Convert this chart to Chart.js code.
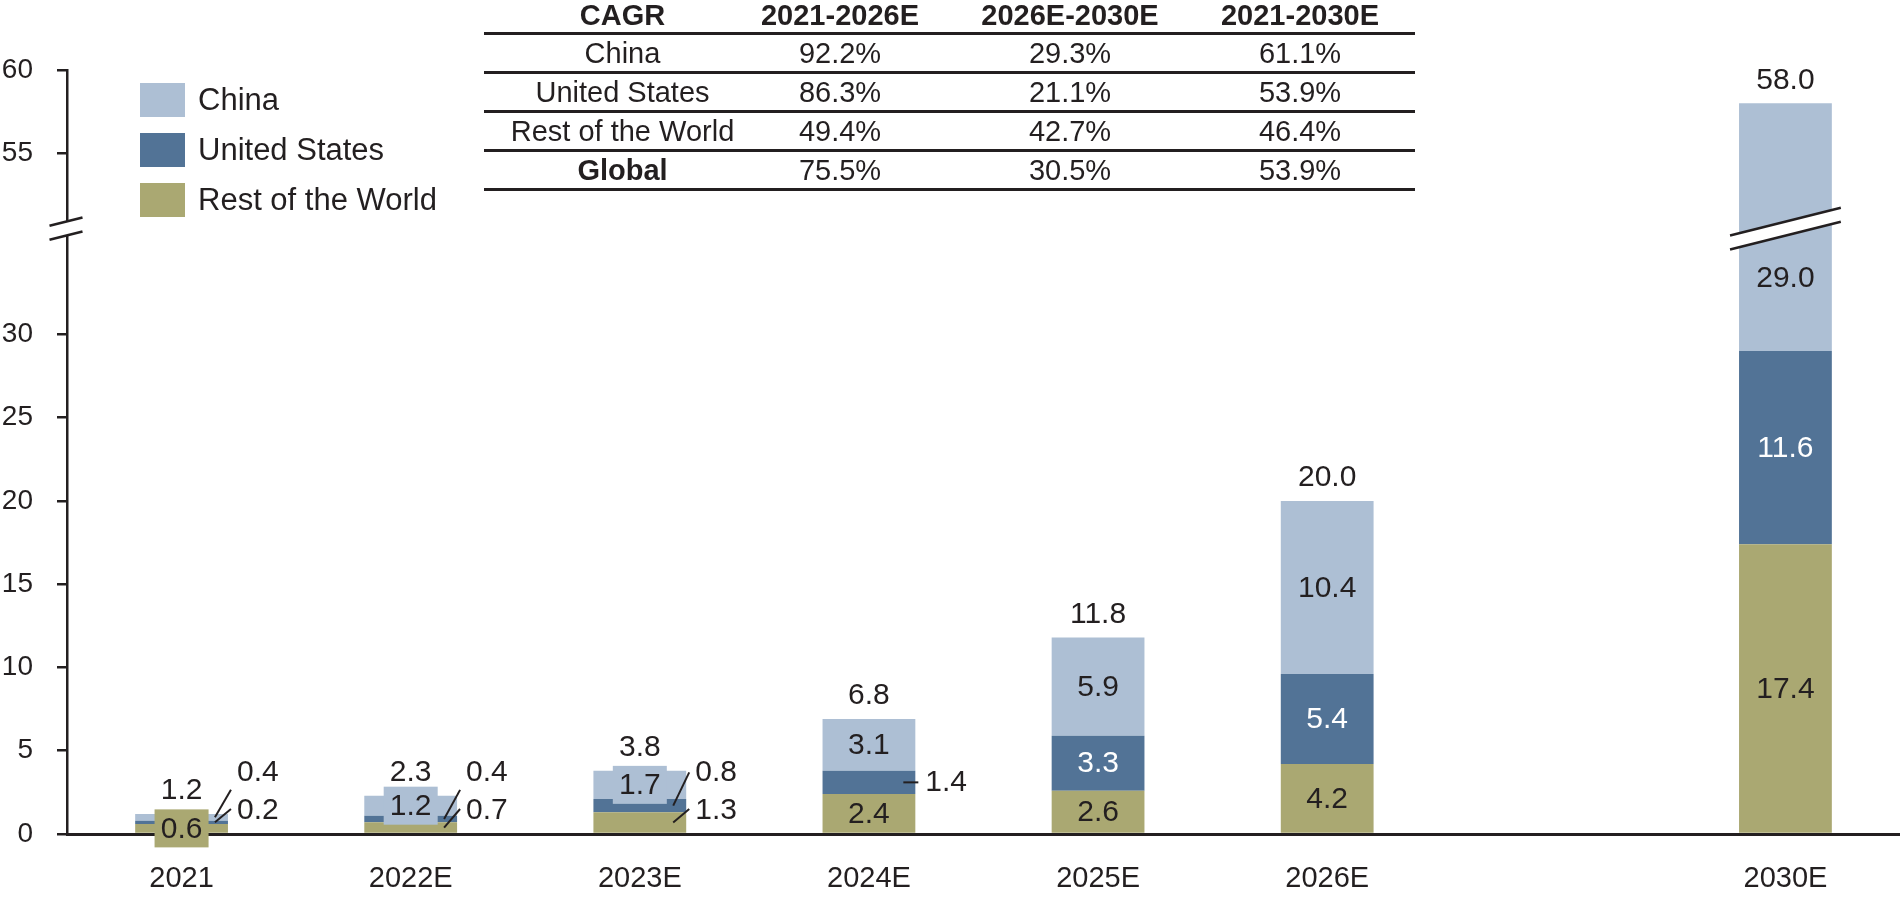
<!DOCTYPE html>
<html>
<head>
<meta charset="utf-8">
<script src="https://cdn.jsdelivr.net/npm/chart.js@4.4.1/dist/chart.umd.min.js"></script>
<style>
  body { margin: 0; background: #fff; font-family: "Liberation Sans", Arial, sans-serif; color: #231f20; }
  #wrap { position: relative; width: 1900px; height: 900px; overflow: hidden; }
  #chart { position: absolute; left: 0; top: 0; }
  #legend { position: absolute; left: 140px; top: 83px; }
  .item { display: flex; align-items: center; height: 34px; margin-bottom: 16px; font-size: 31px; white-space: nowrap; }
  .swatch { width: 45px; height: 34px; margin-right: 13px; }
  #cagr { position: absolute; left: 484px; top: 0; width: 931px; font-size: 29px; }
  .row { display: grid; grid-template-columns: 241px 230px 230px 230px; border-bottom: 3px solid #231f20; height: 36px; line-height: 36px; }
  .row > div { display: flex; justify-content: center; white-space: nowrap; }
  .row.head { height: 31.5px; line-height: 31.5px; font-weight: bold; }
  .row > div:first-child { padding-left: 36px; }
  .bold { font-weight: bold; }
</style>
</head>
<body>
<div id="wrap">
  <canvas id="chart" width="1900" height="900"></canvas>
  <div id="legend"></div>
  <div id="cagr"></div>
</div>
<script>
// data
const categories = ['2021', '2022E', '2023E', '2024E', '2025E', '2026E', '', '2030E'];
const restValues = [0.6, 0.7, 1.3, 2.4, 2.6, 4.2, null, 17.4];
const usValues = [0.2, 0.4, 0.8, 1.4, 3.3, 5.4, null, 11.6];
const chinaValues = [0.4, 1.2, 1.7, 3.1, 5.9, 10.4, null, 29.0];
const totals = [1.2, 2.3, 3.8, 6.8, 11.8, 20.0, null, 58.0];
const yTicks = [0, 5, 10, 15, 20, 25, 30, 55, 60];

const seriesNames = ['Rest of the World', 'United States', 'China'];
const seriesColors = ['#aaa872', '#527396', '#adbfd4'];
const labelColors = ['#231f20', '#ffffff', '#231f20'];

const cagrHeader = ['CAGR', '2021-2026E', '2026E-2030E', '2021-2030E'];
const cagrRegions = ['China', 'United States', 'Rest of the World', 'Global'];
const cagr2021to2026 = ['92.2%', '86.3%', '49.4%', '75.5%'];
const cagr2026to2030 = ['29.3%', '21.1%', '42.7%', '30.5%'];
const cagr2021to2030 = ['61.1%', '53.9%', '46.4%', '53.9%'];

// which labels sit in a box / out on a leader line (series: 0 rest, 1 us, 2 china)
const boxedLabels = [{ cat: 0, series: 0 }, { cat: 1, series: 2 }, { cat: 2, series: 2 }];
const callouts = [
  { cat: 0, series: 2, textAt: 3.65, lineTo: 2.65 },
  { cat: 0, series: 1, textAt: 1.4, lineTo: 1.5 },
  { cat: 1, series: 1, textAt: 3.65, lineTo: 2.65 },
  { cat: 1, series: 0, textAt: 1.4, lineTo: 1.5 },
  { cat: 2, series: 1, textAt: 3.65, lineTo: 3.7 },
  { cat: 2, series: 0, textAt: 1.4, lineTo: 1.5 },
  { cat: 3, series: 1, side: true }
];
const labelAt = [{ cat: 7, series: 2, value: 33.4 }];

// broken axis: everything above BREAK_AT is pulled down by GAP
const BREAK_AT = 45;
const GAP = 14.13;
const BREAK_MARK = 36.35;
const toAxis = v => (v > BREAK_AT ? v - GAP : v);

const series = [restValues, usValues, chinaValues];
const plotted = series.map((vals, s) => vals.map((v, i) => {
  if (v == null) return null;
  let below = 0;
  for (let k = 0; k < s; k++) below += series[k][i];
  return toAxis(below + v) - toAxis(below);
}));

// legend + table as html
const legend = document.getElementById('legend');
[2, 1, 0].forEach(s => {
  legend.innerHTML += '<div class="item"><div class="swatch" style="background:' + seriesColors[s] + '"></div>' + seriesNames[s] + '</div>';
});
const table = document.getElementById('cagr');
table.innerHTML = '<div class="row head">' + cagrHeader.map(h => '<div>' + h + '</div>').join('') + '</div>';
cagrRegions.forEach((r, i) => {
  const cls = r === 'Global' ? ' class="bold"' : '';
  table.innerHTML += '<div class="row"><div' + cls + '>' + r + '</div><div>' + cagr2021to2026[i] +
    '</div><div>' + cagr2026to2030[i] + '</div><div>' + cagr2021to2030[i] + '</div></div>';
});

const FONT = '"Liberation Sans", Arial, sans-serif';
Chart.defaults.font.family = FONT;
Chart.defaults.color = '#231f20';

function drawBreak(ctx, cx, yc, hw) {
  const k = 0.25, g = 7;
  ctx.fillStyle = '#ffffff';
  ctx.beginPath();
  ctx.moveTo(cx - hw, yc - g + hw * k);
  ctx.lineTo(cx + hw, yc - g - hw * k);
  ctx.lineTo(cx + hw, yc + g - hw * k);
  ctx.lineTo(cx - hw, yc + g + hw * k);
  ctx.closePath();
  ctx.fill();
  ctx.strokeStyle = '#231f20';
  ctx.lineWidth = 2.5;
  [-g, g].forEach(o => {
    ctx.beginPath();
    ctx.moveTo(cx - hw, yc + o + hw * k);
    ctx.lineTo(cx + hw, yc + o - hw * k);
    ctx.stroke();
  });
}

const labelPlugin = {
  id: 'segLabels',
  afterDraw(chart) {
    const ctx = chart.ctx;
    const y = chart.scales.y;
    const yb = y.getPixelForValue(BREAK_MARK);
    ctx.save();

    // break on the axis and on bars that cross it
    drawBreak(ctx, chart.chartArea.left - 1, yb, 16.5);
    const topMeta = chart.getDatasetMeta(series.length - 1);
    totals.forEach((t, i) => {
      if (t != null && t > BREAK_AT) {
        const bar = topMeta.data[i];
        drawBreak(ctx, bar.x, yb, bar.width / 2 + 9);
      }
    });

    ctx.font = '30px ' + FONT;
    ctx.textBaseline = 'middle';
    series.forEach((vals, s) => {
      const meta = chart.getDatasetMeta(s);
      vals.forEach((v, i) => {
        if (v == null) return;
        const bar = meta.data[i];
        let mid = (bar.y + bar.base) / 2;
        const right = bar.x + bar.width / 2;
        const txt = v.toFixed(1);
        const at = labelAt.find(a => a.cat === i && a.series === s);
        if (at) mid = y.getPixelForValue(at.value);
        const co = callouts.find(c => c.cat === i && c.series === s);
        const boxed = boxedLabels.find(c => c.cat === i && c.series === s);
        ctx.strokeStyle = '#231f20';
        ctx.lineWidth = 2;
        if (co && co.side) {
          ctx.beginPath();
          ctx.moveTo(right - 12, mid);
          ctx.lineTo(right + 3, mid);
          ctx.stroke();
          ctx.fillStyle = '#231f20';
          ctx.textAlign = 'left';
          ctx.fillText(txt, right + 10, mid);
        } else if (co) {
          const ty = y.getPixelForValue(co.textAt);
          ctx.beginPath();
          ctx.moveTo(right - 13, mid);
          ctx.lineTo(right + 3, y.getPixelForValue(co.lineTo));
          ctx.stroke();
          ctx.fillStyle = '#231f20';
          ctx.textAlign = 'left';
          ctx.fillText(txt, right + 9, ty);
        } else if (boxed) {
          ctx.fillStyle = seriesColors[s];
          ctx.fillRect(bar.x - 27, mid - 19, 54, 38);
          ctx.fillStyle = '#231f20';
          ctx.textAlign = 'center';
          ctx.fillText(txt, bar.x, mid + 1);
        } else {
          ctx.fillStyle = labelColors[s];
          ctx.textAlign = 'center';
          ctx.fillText(txt, bar.x, mid + 1);
        }
      });
    });

    // totals above the bars
    ctx.fillStyle = '#231f20';
    ctx.textAlign = 'center';
    totals.forEach((t, i) => {
      if (t == null) return;
      const bar = topMeta.data[i];
      ctx.fillText(t.toFixed(1), bar.x, bar.y - 23);
    });
    ctx.restore();
  }
};

new Chart(document.getElementById('chart'), {
  type: 'bar',
  data: {
    labels: categories,
    datasets: series.map((vals, s) => ({
      label: seriesNames[s],
      data: plotted[s],
      backgroundColor: seriesColors[s],
      borderWidth: 0,
      barPercentage: 0.405,
      categoryPercentage: 1
    }))
  },
  options: {
    responsive: false,
    animation: false,
    layout: { padding: { top: 70, right: 0, bottom: 0, left: 0 } },
    plugins: { legend: { display: false }, tooltip: { enabled: false } },
    scales: {
      x: {
        stacked: true,
        z: 1,
        grid: { display: false, drawTicks: false },
        border: { display: true, color: '#231f20', width: 3 },
        ticks: { color: '#231f20', font: { size: 29 }, padding: 28, maxRotation: 0, autoSkip: false },
        afterFit: s => { s.height = 66; }
      },
      y: {
        stacked: true,
        min: 0,
        max: toAxis(60),
        grid: { drawOnChartArea: false, drawTicks: true, tickLength: 10, color: '#231f20', lineWidth: 2.5 },
        border: { display: true, color: '#231f20', width: 2.5 },
        ticks: { color: '#231f20', font: { size: 28 }, padding: 24, callback: (v, i) => yTicks[i] },
        afterBuildTicks: s => { s.ticks = yTicks.map(v => ({ value: toAxis(v) })); },
        afterFit: s => { s.width = 67; }
      }
    }
  },
  plugins: [labelPlugin]
});
</script>
</body>
</html>
